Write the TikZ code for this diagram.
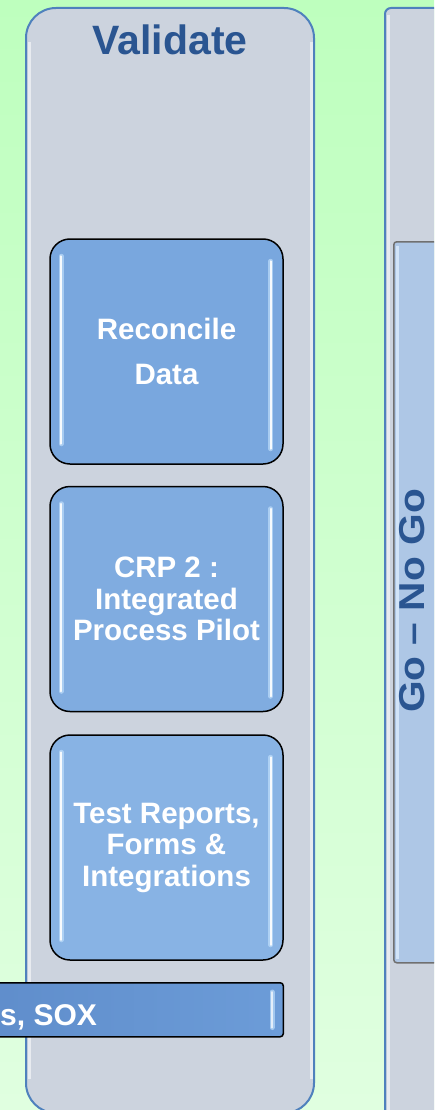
\documentclass[tikz,border=0pt]{standalone}
\usepackage{fontspec}
\setmainfont{Liberation Sans}
\usetikzlibrary{calc}
\definecolor{bgtop}{RGB}{190,255,190}
\definecolor{bgbot}{RGB}{224,255,224}
\definecolor{panelfill}{RGB}{204,211,222}
\definecolor{panelline}{RGB}{79,129,189}
\definecolor{titleblue}{RGB}{42,85,145}
\definecolor{boxA}{RGB}{121,167,222}
\definecolor{boxB}{RGB}{128,172,224}
\definecolor{boxC}{RGB}{136,179,228}
\definecolor{barfill}{RGB}{174,199,230}
\definecolor{barhi}{RGB}{210,228,248}
\definecolor{barline}{RGB}{112,112,112}
\definecolor{soxL}{RGB}{95,141,203}
\definecolor{soxR}{RGB}{108,156,216}
\definecolor{glow}{RGB}{200,230,255}
\begin{document}
\begin{tikzpicture}[x=1pt,y=-1pt,
  panel/.style={draw=panelline, line width=2pt, fill=panelfill, inner sep=0pt, anchor=north west},
  stepbox/.style={draw=black, line width=1.5pt, rounded corners=20pt, minimum width=233pt, minimum height=225pt, inner sep=0pt, align=center, text=white, font=\bfseries\fontsize{29.5}{31.5}\selectfont},
  glowline/.style={glow, line width=5pt, opacity=0.6, line cap=round},
  gloss/.style={white, line width=2pt, opacity=0.9, line cap=round},
  edgehi/.style={white, line width=3pt, opacity=0.55}
]
\useasboundingbox (0,0) rectangle (434,1110);
\shade[top color=bgtop, bottom color=bgbot] (0,0) rectangle (434,1110);
\clip (0,0) rectangle (434,1110);

% panels
\node[panel, rounded corners=30pt, minimum width=288pt, minimum height=1105pt] (vpanel) at (25,7) {};
\draw[edgehi] ($(vpanel.north west)+(4,35)$) -- ($(vpanel.south west)+(4,-35)$);
\draw[edgehi] ($(vpanel.north east)+(-4,35)$) -- ($(vpanel.south east)+(-4,-35)$);
\node[panel, rounded corners=6pt, minimum width=80pt, minimum height=1110pt] (gpanel) at (384,7) {};
\draw[edgehi] ($(gpanel.north west)+(4,8)$) -- ($(gpanel.south west)+(4,-8)$);

% go / no go bar
\node[draw=barline, line width=1.5pt, fill=barfill, rounded corners=3pt, inner sep=0pt, anchor=north west, minimum width=60pt, minimum height=721pt] (gobar) at (393,241) {};
\draw[barhi, line width=3pt] ($(gobar.north west)+(4,5)$) -- ($(gobar.south west)+(4,-5)$);
\node[rotate=90, text=titleblue, font=\bfseries\fontsize{36}{36}\selectfont] (gotext) at (412,601) {\scalebox{1.13}[1]{Go – No Go}};

% title
\node[text=titleblue, font=\bfseries\fontsize{41}{41}\selectfont, anchor=base] (title) at (170,55) {Validate};

% step boxes
\node[stepbox, fill=boxA, font=\bfseries\fontsize{29.5}{45}\selectfont] (recon) at (166.5,351.5) {Reconcile\\Data};
\node[stepbox, fill=boxB] (crp) at (166.5,599) {CRP 2 :\\Integrated\\Process Pilot};
\node[stepbox, fill=boxC] (test) at (166.5,847.5) {Test Reports,\\Forms \&\\Integrations};
\foreach \b in {recon,crp,test}{
  \draw[glowline] ($(\b.north west)+(12,18)$) -- ($(\b.south west)+(12,-21)$);
  \draw[gloss] ($(\b.north west)+(12,18)$) -- ($(\b.south west)+(12,-21)$);
  \draw[glowline] ($(\b.north east)+(-13,23)$) -- ($(\b.south east)+(-13,-16)$);
  \draw[gloss] ($(\b.north east)+(-13,23)$) -- ($(\b.south east)+(-13,-16)$);
}

% SOX bar
\node[draw=black, line width=1.5pt, left color=soxL, right color=soxR, rounded corners=3pt, inner sep=0pt, anchor=north east, minimum width=300pt, minimum height=54pt] (sox) at (284,982) {};
\draw[glowline] ($(sox.north east)+(-12,10)$) -- ($(sox.south east)+(-12,-10)$);
\draw[gloss, opacity=0.7] ($(sox.north east)+(-12,10)$) -- ($(sox.south east)+(-12,-10)$);
\node[anchor=base west, inner sep=0pt, text=white, font=\bfseries\fontsize{30}{30}\selectfont] (soxtext) at (0,1025) {s, SOX};
\end{tikzpicture}
\end{document}
